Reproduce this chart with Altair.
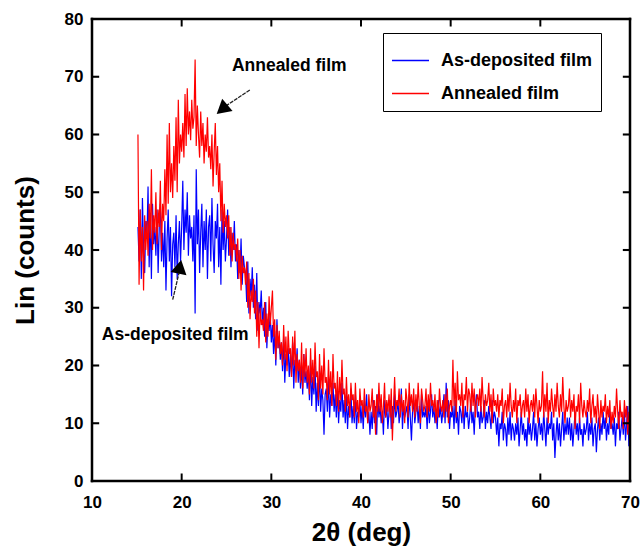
import altair as alt
import pandas as pd

# Lin counts, 8 readings per degree (step 0.125 deg, 15.125 .. 70)
as_deposited = [
    44, 38, 47, 35, 49, 40, 36, 45,
    42, 51, 37, 46, 35, 48, 41, 44,
    39, 47, 36, 44, 48, 38, 43, 37,
    45, 33, 42, 47, 38, 44, 32, 41,
    43, 37, 46, 35, 41, 45, 38, 44,
    52, 40, 47, 43, 50, 39, 46, 42,
    44, 38, 46, 29, 54, 41, 47, 36,
    43, 48, 37, 45, 40, 47, 35, 44,
    46, 38, 49, 41, 36, 45, 42, 48,
    37, 44, 34, 47, 40, 45, 38, 42,
    47, 39, 44, 37, 43, 40, 45, 38,
    41, 35, 40, 36, 42, 34, 39, 37,
    36, 31, 38, 29, 35, 32, 37, 30,
    34, 28, 36, 26, 31, 29, 33, 27,
    30, 25, 31, 23, 28, 26, 29, 24,
    27, 22, 26, 20, 28, 23, 25, 21,
    24, 19, 25, 17, 22, 20, 23, 18,
    22, 18, 24, 16, 21, 19, 23, 17,
    21, 16, 20, 15, 22, 17, 19, 16,
    19, 14, 21, 13, 18, 15, 20, 12,
    17, 13, 19, 12, 16, 14, 8, 15,
    16, 12, 18, 11, 15, 13, 17, 12,
    15, 11, 16, 10, 14, 12, 17, 11,
    14, 10, 15, 9, 13, 11, 16, 10,
    13, 10, 15, 9, 12, 11, 14, 10,
    13, 9, 14, 11, 15, 10, 12, 8,
    12, 9, 14, 10, 13, 8, 15, 11,
    13, 10, 12, 8, 14, 11, 13, 9,
    12, 14, 9, 13, 10, 15, 11, 12,
    14, 10, 12, 16, 9, 13, 11, 12,
    13, 9, 15, 11, 7, 12, 14, 10,
    12, 14, 10, 13, 9, 15, 11, 12,
    11, 13, 9, 14, 10, 12, 15, 11,
    13, 10, 12, 9, 14, 11, 13, 10,
    12, 15, 10, 17, 11, 14, 9, 12,
    11, 13, 9, 14, 10, 12, 8, 13,
    12, 10, 14, 9, 13, 11, 12, 9,
    11, 14, 10, 12, 8, 13, 15, 11,
    12, 9, 13, 10, 11, 14, 9, 12,
    10, 13, 11, 9, 14, 10, 12, 11,
    8, 11, 6, 10, 9, 12, 7, 10,
    9, 6, 11, 8, 12, 7, 10, 9,
    7, 10, 8, 11, 6, 9, 12, 8,
    10, 7, 9, 6, 11, 8, 10, 7,
    9, 12, 7, 10, 6, 9, 11, 8,
    10, 7, 12, 9, 6, 11, 8, 10,
    9, 12, 7, 10, 4, 8, 11, 7,
    10, 6, 9, 12, 7, 10, 8, 11,
    8, 11, 7, 10, 6, 9, 12, 8,
    10, 7, 11, 8, 9, 6, 10, 8,
    9, 12, 7, 10, 8, 11, 6, 9,
    10, 5, 9, 11, 7, 10, 8, 12,
    9, 11, 7, 10, 8, 12, 9, 10,
    8, 11, 6, 10, 9, 12, 7, 9,
    11, 8, 12, 7, 10, 13, 6, 9,
]

annealed = [
    60, 34, 47, 38, 44, 33, 46, 40,
    45, 39, 48, 42, 54, 40, 46, 43,
    50, 41, 47, 44, 52, 40, 48, 45,
    54, 46, 60, 48, 62, 50, 55, 49,
    58, 52, 63, 50, 66, 55, 60, 57,
    62, 56, 67, 58, 68, 60, 64, 59,
    66, 61, 63, 73, 58, 65, 60, 56,
    64, 58, 62, 55, 60, 57, 63, 56,
    58, 54, 60, 51, 57, 62, 53, 58,
    50, 55, 45, 52, 43, 48, 44, 46,
    42, 46, 39, 44, 38, 43, 40, 41,
    38, 42, 35, 40, 33, 39, 36, 37,
    34, 38, 30, 36, 28, 33, 31, 35,
    29, 33, 25, 31, 23, 30, 27, 28,
    26, 31, 24, 29, 25, 32, 27, 30,
    33, 25, 28, 21, 27, 23, 26, 22,
    24, 20, 27, 21, 25, 19, 26, 22,
    23, 18, 25, 20, 26, 17, 22, 19,
    21, 17, 24, 16, 22, 18, 23, 17,
    20, 15, 23, 17, 21, 16, 24, 18,
    19, 14, 22, 16, 20, 15, 23, 17,
    18, 14, 21, 15, 19, 13, 22, 16,
    17, 13, 19, 12, 18, 14, 21, 15,
    16, 12, 18, 13, 15, 11, 17, 14,
    15, 11, 17, 12, 14, 10, 16, 13,
    14, 11, 16, 12, 13, 10, 15, 12,
    13, 16, 11, 14, 8, 15, 12, 17,
    12, 15, 10, 13, 17, 11, 14, 12,
    15, 11, 16, 7, 13, 18, 12, 14,
    13, 16, 11, 15, 12, 14, 10, 16,
    14, 11, 17, 13, 15, 12, 16, 11,
    15, 12, 17, 13, 10, 16, 14, 12,
    13, 16, 11, 15, 12, 17, 13, 14,
    12, 15, 10, 14, 11, 16, 13, 12,
    14, 11, 15, 12, 16, 10, 13, 14,
    12, 21, 13, 17, 11, 19, 14, 15,
    13, 17, 11, 15, 14, 18, 12, 16,
    15, 12, 17, 13, 16, 11, 14, 15,
    13, 16, 12, 18, 14, 11, 15, 13,
    14, 17, 12, 15, 10, 16, 13, 14,
    12, 15, 11, 14, 13, 16, 10, 13,
    14, 11, 15, 12, 17, 13, 11, 14,
    12, 16, 10, 14, 13, 15, 11, 13,
    14, 11, 16, 12, 15, 10, 13, 14,
    12, 15, 11, 16, 13, 10, 14, 12,
    13, 19, 11, 15, 12, 17, 10, 14,
    12, 16, 13, 11, 15, 12, 17, 13,
    11, 15, 12, 18, 13, 10, 14, 12,
    13, 16, 11, 14, 12, 15, 9, 13,
    12, 15, 10, 17, 13, 11, 14, 12,
    11, 14, 12, 16, 10, 13, 15, 11,
    13, 10, 15, 12, 9, 14, 11, 13,
    12, 15, 10, 13, 11, 14, 9, 12,
    10, 13, 11, 16, 12, 9, 14, 11,
    12, 9, 14, 11, 13, 8, 12, 10,
]

series_names = ["As-deposited film", "Annealed film"]
series_colors = ["#0000ff", "#ff0000"]

x_ticks = [10, 20, 30, 40, 50, 60, 70]
y_ticks = [0, 10, 20, 30, 40, 50, 60, 70, 80]

FONT = "Liberation Sans"

theta_blue = [15.125 + 0.125 * i for i in range(len(as_deposited))]
theta_red = [15.125 + 0.125 * i for i in range(len(annealed))]

df = pd.DataFrame(
    {
        "two_theta": theta_blue + theta_red,
        "counts": as_deposited + annealed,
        "series": [series_names[0]] * len(as_deposited) + [series_names[1]] * len(annealed),
    }
)

xs = alt.Scale(domain=[10, 70], nice=False)
ys = alt.Scale(domain=[0, 80], nice=False)
legend = alt.Legend(
    title=None,
    orient="none",
    legendX=291,
    legendY=14,
    strokeColor="black",
    fillColor="white",
    padding=8,
    symbolType="stroke",
    symbolSize=1370,
    symbolStrokeWidth=1.6,
    labelFontSize=18,
    labelFontWeight="bold",
    labelFont=FONT,
    labelColor="black",
    rowPadding=4,
    labelOffset=11,
    labelLimit=300,
)
color = alt.Color(
    "series:N",
    scale=alt.Scale(domain=series_names, range=series_colors),
    legend=legend,
)

xaxis = alt.Axis(
    values=x_ticks, title="2θ (deg)", grid=False, ticks=False, domain=False,
    labelFontSize=17, labelFontWeight="bold", labelFont=FONT, labelPadding=13,
    titleFontSize=26, titleFontWeight="bold", titleFont=FONT, titlePadding=9,
    labelColor="black", titleColor="black", labelFlush=False,
)
yaxis = alt.Axis(
    values=y_ticks, title="Lin (counts)", grid=False, ticks=False, domain=False,
    labelFontSize=17, labelFontWeight="bold", labelFont=FONT, labelPadding=9,
    titleFontSize=26, titleFontWeight="bold", titleFont=FONT, titlePadding=26,
    labelColor="black", titleColor="black", labelFlush=False,
)

base = alt.Chart(df)
blue = base.transform_filter(alt.datum.series == series_names[0]).mark_line(
    strokeWidth=1.2
).encode(
    x=alt.X("two_theta:Q", scale=xs, axis=xaxis),
    y=alt.Y("counts:Q", scale=ys, axis=yaxis),
    color=color,
)
red = base.transform_filter(alt.datum.series == series_names[1]).mark_line(
    strokeWidth=1.2
).encode(
    x=alt.X("two_theta:Q", scale=xs),
    y=alt.Y("counts:Q", scale=ys),
    color=color,
)

# frame and inward ticks as thin filled bars
bars = {"rx": [], "rx2": [], "ry": [], "ry2": []}


def bar(x0, x1, y0, y1):
    bars["rx"].append(x0)
    bars["rx2"].append(x1)
    bars["ry"].append(y0)
    bars["ry2"].append(y1)


bar(9.86, 10.14, -0.22, 80.22)    # left frame
bar(69.86, 70.14, -0.22, 80.22)   # right frame
bar(9.86, 70.14, -0.22, 0.22)     # bottom frame
bar(9.86, 70.14, 79.78, 80.22)    # top frame
for v in x_ticks[1:-1]:
    bar(v - 0.11, v + 0.11, 0, 1.3)
    bar(v - 0.11, v + 0.11, 78.7, 80)
for v in y_ticks[1:-1]:
    bar(10, 10.8, v - 0.18, v + 0.18)
    bar(69.2, 70, v - 0.18, v + 0.18)

frame = alt.Chart(pd.DataFrame(bars)).mark_rect(color="black", opacity=1).encode(
    x=alt.X("rx:Q", scale=xs), x2="rx2:Q", y=alt.Y("ry:Q", scale=ys), y2="ry2:Q"
)

# annotation arrows
arrow_df = pd.DataFrame(
    [
        {"x": 27.6, "y": 67.7, "x2": 24.6, "y2": 64.6},
        {"x": 19.0, "y": 31.4, "x2": 19.7, "y2": 36.0},
    ]
)
arrows = alt.Chart(arrow_df).mark_rule(color="#222222", strokeWidth=1.3, strokeDash=[4, 1]).encode(
    x=alt.X("x:Q", scale=xs), x2="x2:Q", y=alt.Y("y:Q", scale=ys), y2="y2:Q"
)
head_df = pd.DataFrame(
    [
        {"x": 24.7, "y": 64.6, "angle": 230},
        {"x": 19.75, "y": 36.7, "angle": 11},
    ]
)
heads = alt.Chart(head_df).mark_point(
    shape="triangle", filled=True, color="black", opacity=1, size=260
).encode(
    x=alt.X("x:Q", scale=xs), y=alt.Y("y:Q", scale=ys), angle=alt.Angle("angle:Q", scale=None)
)

label_df = pd.DataFrame(
    [
        {"x": 25.6, "y": 71.9, "text": "Annealed film"},
        {"x": 11.1, "y": 25.2, "text": "As-deposited film"},
    ]
)
labels = alt.Chart(label_df).mark_text(
    align="left", baseline="middle", fontSize=17.5, fontWeight="bold", font=FONT, color="black"
).encode(x=alt.X("x:Q", scale=xs), y=alt.Y("y:Q", scale=ys), text="text:N")

chart = (
    alt.layer(blue, red, frame, arrows, heads, labels)
    .properties(
        width=538,
        height=462,
        background="white",
        autosize=alt.AutoSizeParams(type="none"),
        padding={"left": 92, "top": 19, "right": 14, "bottom": 70},
    )
    .configure_view(stroke="#000000", strokeWidth=2)
)

chart.save("out.html", embed_options={"renderer": "svg", "actions": False})
